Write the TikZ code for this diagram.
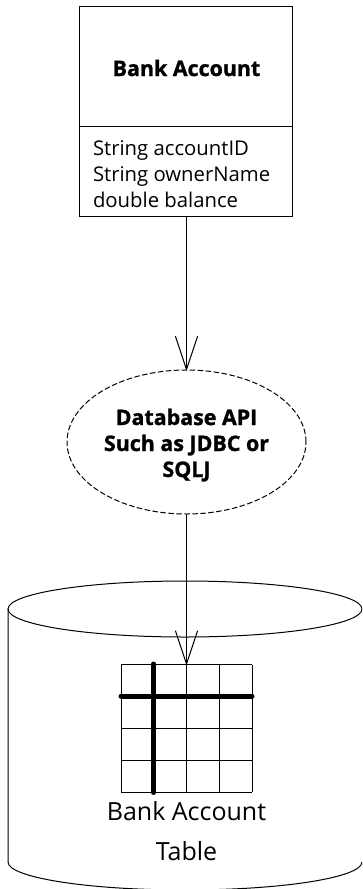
\documentclass[tikz,border=0pt]{standalone}
\usepackage{fontspec}
\setmainfont{Open Sans}
\newfontfamily\blackfont[FakeBold=1.2]{Open Sans Bold}
\usetikzlibrary{arrows.meta,shapes.geometric}
\tikzset{
  lnw/.style={line width=1pt},
  thickbar/.style={line width=5pt,line cap=round},
  conn/.style={lnw,-{Straight Barb[length=33pt,width=22pt,line width=1pt,round]}},
  head/.style={font=\blackfont\fontsize{21.4}{26}\selectfont,align=center,inner sep=0,outer sep=0},
  attr/.style={font=\fontsize{20.3}{26}\selectfont,align=left,inner sep=0,outer sep=0},
  tbl/.style={font=\fontsize{25}{40}\selectfont,align=center,inner sep=0,outer sep=0},
}
\begin{document}
\begin{tikzpicture}[x=1pt,y=-1pt]
\useasboundingbox (0,0) rectangle (362,889);
\clip (0,0) rectangle (362,889);
% class box
\node[draw,lnw,rectangle,minimum width=213.5pt,minimum height=210pt,inner sep=0,outer sep=0] (box) at (186.2,111) {};
\coordinate (divL) at (box.west |- 0,126);
\coordinate (divR) at (box.east |- 0,126);
\draw[lnw] (divL) -- (divR);
\node[head] (title) at (186.5,68) {Bank Account};
\node[attr,anchor=base west] (attrs) at (93,207) {String accountID\\String ownerName\\double balance};
% ellipse
\node[draw,lnw,dash pattern=on 5.5pt off 2.5pt,ellipse,minimum width=239pt,minimum height=144pt,inner sep=0,outer sep=0] (api) at (186.5,442) {};
\node[head,anchor=base] (apitext) at (186.5,477) {Database API\\Such as JDBC or\\SQLJ};
% cylinder
\coordinate (cylL) at (8,609);
\coordinate (cylBL) at (8,862);
\draw[lnw] (185,609) ellipse [x radius=177,y radius=28];
\draw[lnw] (cylL) -- (cylBL) arc [start angle=180,end angle=360,x radius=177,y radius=-28];
% grid
\foreach \xx in {121,153.75,186.5,219.25,252}{\draw[line width=.9pt] (\xx,664.5) -- (\xx,792);}
\foreach \yy in {664.5,696.5,728.5,760.5,792}{\draw[line width=.9pt] (121,\yy) -- (252,\yy);}
\draw[thickbar] (153.75,664) -- (153.75,792.5);
\draw[thickbar] (121,696) -- (252,696);
\coordinate (gridtop) at (186.5,664.5);
\node[tbl,anchor=base] (tabletext) at (186.5,860) {Bank Account\\Table};
% connectors
\draw[conn] (box.south -| api.north) -- (api.north);
\draw[conn] (api.south) -- (gridtop);
\end{tikzpicture}
\end{document}
